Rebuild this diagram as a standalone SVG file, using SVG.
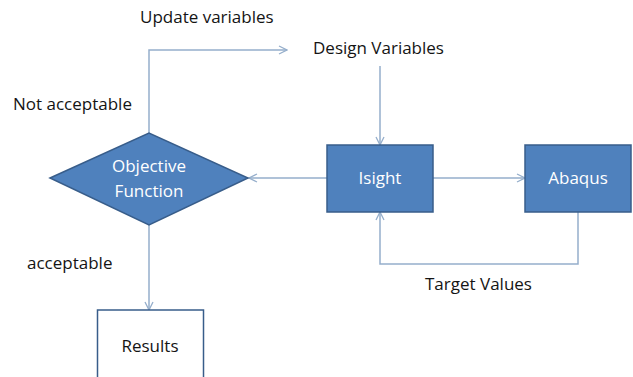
<svg xmlns="http://www.w3.org/2000/svg" width="633" height="377" viewBox="0 0 633 377">
<style>
.node{fill:#4F81BD;stroke:#385D8A;stroke-width:1.5}
.wn{fill:#fff;stroke:#385D8A;stroke-width:1.5}
.c{fill:none;stroke:#95AECB;stroke-width:1.5}
.t{font-family:"Open Sans","Liberation Sans",sans-serif;font-size:17px;fill:#141414}
.w{font-family:"Open Sans","Liberation Sans",sans-serif;font-size:17px;fill:#fff;text-anchor:middle}
.k{font-family:"Open Sans","Liberation Sans",sans-serif;font-size:17px;fill:#141414;text-anchor:middle}
</style>
<defs>
<marker id="a" viewBox="0 0 10 10" refX="9" refY="5" markerWidth="10" markerHeight="10" markerUnits="userSpaceOnUse" orient="auto">
<path d="M1,1 L9,5 L1,9" fill="none" stroke="#95AECB" stroke-width="1.3"/>
</marker>
</defs>
<rect width="633" height="377" fill="#fff"/>
<g id="connectors">
<path class="c" d="M149,133 V50 H287" marker-end="url(#a)"/>
<path class="c" d="M380,66 V145" marker-end="url(#a)"/>
<path class="c" d="M433,178 H525" marker-end="url(#a)"/>
<path class="c" d="M327,178 H249" marker-end="url(#a)"/>
<path class="c" d="M578,212 V264 H380 V212" marker-end="url(#a)"/>
<path class="c" d="M149,225 V310" marker-end="url(#a)"/>
</g>
<g id="objective">
<polygon class="node" points="50,178 149,133 248,178 149,225"/>
<text class="w" x="149" y="172">Objective</text>
<text class="w" x="149" y="197">Function</text>
</g>
<g id="isight">
<rect class="node" x="327" y="145" width="106" height="67"/>
<text class="w" x="380" y="184">Isight</text>
</g>
<g id="abaqus">
<rect class="node" x="525" y="145" width="106" height="67"/>
<text class="w" x="578" y="184">Abaqus</text>
</g>
<g id="results">
<rect class="wn" x="97.5" y="310" width="106" height="70"/>
<text class="k" x="150" y="352">Results</text>
</g>
<g id="labels">
<text class="t" x="140" y="23">Update variables</text>
<text class="t" x="313" y="54">Design Variables</text>
<text class="t" x="13" y="110">Not acceptable</text>
<text class="t" x="27" y="269">acceptable</text>
<text class="t" x="425" y="290">Target Values</text>
</g>
</svg>
